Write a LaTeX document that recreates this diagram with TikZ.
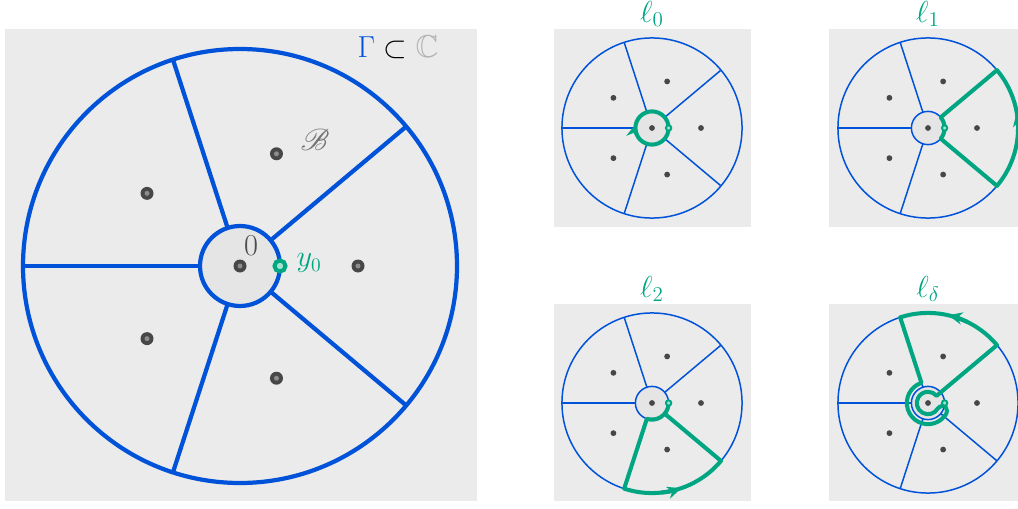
\documentclass[tikz,border=0pt]{standalone}
\usepackage{amssymb}
\usepackage{mathrsfs}
\usetikzlibrary{arrows.meta}

\definecolor{gammablue}{RGB}{0,82,217}
\definecolor{loopgreen}{RGB}{0,166,130}
\definecolor{panelgray}{RGB}{235,235,235}
\definecolor{diskgray}{RGB}{229,229,229}
\definecolor{basefill}{RGB}{165,226,208}

% the graph Gamma: outer circle, five cuts, small disk round 0
\newcommand{\gammagraph}[1]{%
    \draw[gammablue,line width=#1] (0,0) circle (217);
    \foreach \a in {40,108,180,252,320}
        \draw[gammablue,line width=#1] (\a:40) -- (\a:217);
    \draw[gammablue,line width=#1,fill=diskgray] (0,0) circle (40);
}
% the points of B
\newcommand{\bpoints}[1]{%
    \fill[black!72] (0,0) circle (#1);
    \foreach \a in {0,72,142,218,288}
        \fill[black!72] (\a:118) circle (#1);
}

\begin{document}
\begin{tikzpicture}[x=0.02cm,y=0.02cm,
        loopline/.style={loopgreen,line width=2.3pt,line join=round},
        looparrow/.style={loopgreen,line width=2.3pt,-{Stealth[length=8pt,width=7pt]}},
        basept/.style={loopgreen,fill=basefill},
        lbl/.style={font=\fontsize{16}{19}\selectfont},
        ttl/.style={font=\fontsize{17}{20}\selectfont,text=loopgreen}]
    \useasboundingbox (0,0) rectangle (1018,508);

    % big panel
    \fill[panelgray] (5,7) rectangle (477,479);
    \begin{scope}[shift={(240,242)}]
        \gammagraph{2.4pt}
        \bpoints{6.5}
        \fill[black!45] (0,0) circle (2.5);
        \foreach \a in {0,72,142,218,288}
            \fill[black!45] (\a:118) circle (2.5);
        \draw[basept,line width=2.3pt] (0:40) circle (5.5);
    \end{scope}
    \node[lbl,text=black!70] (zero) at (251,262) {$0$};
    \node[lbl,text=loopgreen] (ylabel) at (309,245) {$y_0$};
    \node[lbl,text=black!55] (bset) at (315,368) {$\mathscr{B}$};
    \node[font=\fontsize{18}{21}\selectfont] (gammac) at (398,461)
        {${\color{gammablue}\Gamma}\subset{\color{black!30}\mathbb{C}}$};

    % l_0
    \fill[panelgray] (554,281) rectangle (751,479);
    \node[ttl] (title0) at (652,494) {$\ell_0$};
    \begin{scope}[shift={(652,380)},scale=0.415]
        \gammagraph{0.85pt}
        \bpoints{7}
        \draw[loopline] (0,0) circle (40);
        \draw[looparrow] (200:40) arc[start angle=200,end angle=165,radius=40];
        \draw[basept,line width=1.1pt] (0:40) circle (6.5);
    \end{scope}

    % l_1
    \fill[panelgray] (829,281) rectangle (1026,479);
    \node[ttl] (title1) at (928,494) {$\ell_1$};
    \begin{scope}[shift={(928,380)},scale=0.415]
        \gammagraph{0.85pt}
        \bpoints{7}
        \draw[loopline] (0:40) arc[start angle=0,end angle=-40,radius=40]
            -- (-40:217) arc[start angle=-40,end angle=40,radius=217]
            -- (40:40) arc[start angle=40,end angle=0,radius=40];
        \draw[looparrow] (-2:217) arc[start angle=-2,end angle=10,radius=217];
        \draw[basept,line width=1.1pt] (0:40) circle (6.5);
    \end{scope}

    % l_2
    \fill[panelgray] (554,7) rectangle (751,204);
    \node[ttl] (title2) at (652,219) {$\ell_2$};
    \begin{scope}[shift={(652,105)},scale=0.415]
        \gammagraph{0.85pt}
        \bpoints{7}
        \draw[loopline] (0:40) arc[start angle=0,end angle=-108,radius=40]
            -- (252:217) arc[start angle=252,end angle=320,radius=217]
            -- (320:40) arc[start angle=-40,end angle=0,radius=40];
        \draw[looparrow] (-84:217) arc[start angle=-84,end angle=-71,radius=217];
        \draw[basept,line width=1.1pt] (0:40) circle (6.5);
    \end{scope}

    % l_delta
    \fill[panelgray] (829,7) rectangle (1026,204);
    \node[ttl] (titled) at (928,219) {$\ell_\delta$};
    \begin{scope}[shift={(928,105)},scale=0.415]
        \gammagraph{0.85pt}
        \bpoints{7}
        \draw[loopline] (0:40) to[out=-90,in=60] (-30:27)
            arc[start angle=-30,end angle=-320,radius=27] -- (40:217)
            arc[start angle=40,end angle=108,radius=217] -- (108:51)
            arc[start angle=108,end angle=330,radius=51] to[out=60,in=-90] (0:40);
        \draw[looparrow] (64:217) arc[start angle=64,end angle=77,radius=217];
        \draw[basept,line width=1.1pt] (0:40) circle (6.5);
    \end{scope}
\end{tikzpicture}
\end{document}
